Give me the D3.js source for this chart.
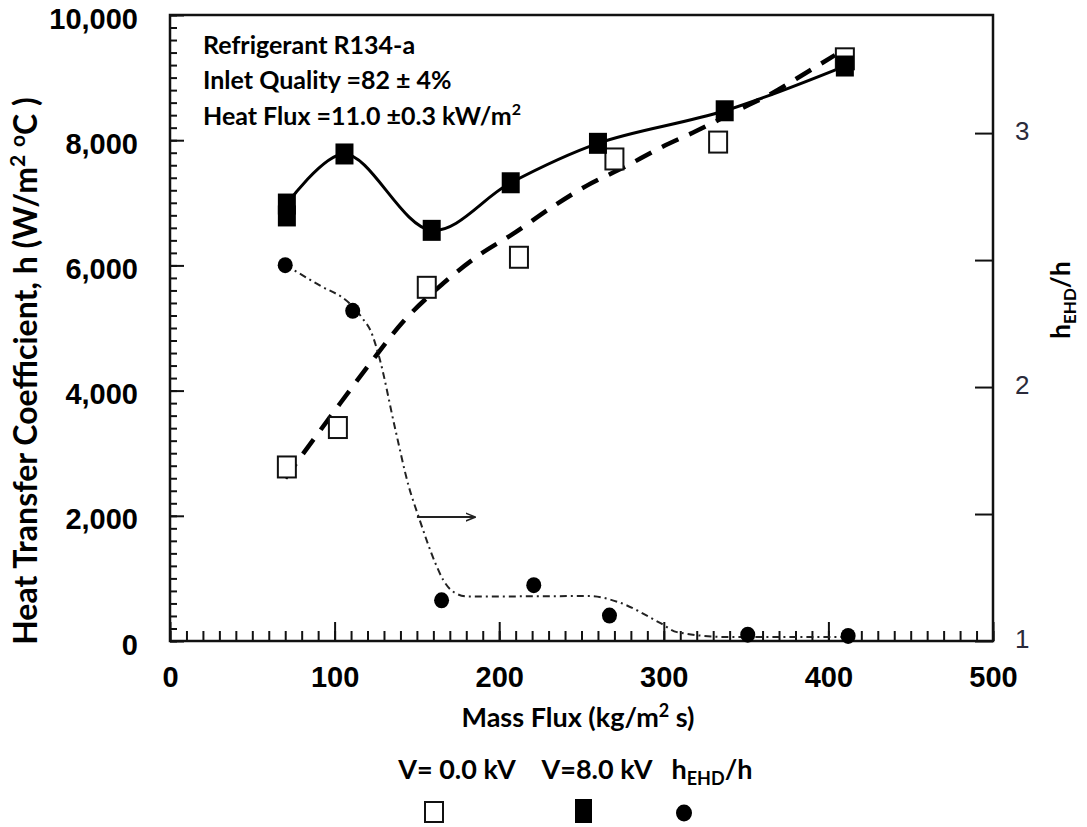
<!DOCTYPE html>
<html>
<head>
<meta charset="utf-8">
<script src="https://cdn.jsdelivr.net/npm/d3@7"></script>
<style>
  body { margin: 0; background: #fff; }
  svg { font-family: Lato, "Open Sans", sans-serif; }
  .axis path.domain { display: none; }
  .axis line { stroke: #111; stroke-width: 2; }
</style>
</head>
<body>
<script>
// mass flux (kg/m2 s) and h (W/m2 C), open squares, V = 0.0 kV
var massV0 = [71, 102, 156, 212, 270, 333, 410];
var hV0 = [2780, 3410, 5650, 6130, 7700, 7970, 9300];

// filled squares, V = 8.0 kV (two readings at the lowest mass flux)
var massV8 = [71, 71, 106, 159, 207, 260, 337, 410];
var hV8 = [6980, 6790, 7780, 6560, 7320, 7950, 8470, 9185];

// h_EHD/h, filled circles, right axis
var massRatio = [70, 111, 165, 221, 267, 351, 412];
var ratio = [2.48, 2.30, 1.16, 1.22, 1.10, 1.025, 1.02];

// dashed trend drawn through the V = 0 points
var trendMass = [70, 99, 120, 142, 165, 187, 210, 232, 253, 276, 298, 320, 345, 365, 386, 404];
var trendH = [2600, 3640, 4380, 5110, 5690, 6150, 6530, 6930, 7270, 7570, 7880, 8150, 8480, 8740, 9070, 9360];

// dash-dot fit of h_EHD/h
var fitMass = [70, 91, 109, 117, 122, 127, 137, 145, 151, 161, 166, 173, 181, 255, 272, 298, 308, 338, 410];
var fitRatio = [2.48, 2.40, 2.33, 2.27, 2.22, 2.12, 1.83, 1.61, 1.49, 1.31, 1.24, 1.19, 1.175, 1.177, 1.154, 1.07, 1.035, 1.016, 1.016];

// arrow pointing to the right axis
var arrowMass = [150, 185];
var arrowH = 1980;

var hTicks = [0, 2000, 4000, 6000, 8000, 10000];
var massTicks = [0, 100, 200, 300, 400, 500];
var ratioTicks = [1, 1.5, 2, 2.5, 3];
var legendLabels = ["V= 0.0 kV", "V=8.0 kV", "hEHD/h"];

var width = 1087, height = 827;
var margin = {top: 15, right: 94, bottom: 186, left: 170};
var plotW = width - margin.left - margin.right;
var plotH = height - margin.top - margin.bottom;

var svg = d3.select("body").append("svg").attr("width", width).attr("height", height);
var g = svg.append("g").attr("transform", "translate(" + margin.left + "," + margin.top + ")");

var x = d3.scaleLinear().domain([0, 500]).range([0, plotW]);
var y = d3.scaleLinear().domain([0, 10000]).range([plotH, 0]);
var y2 = d3.scaleLinear().domain([1, 3.465]).range([plotH, 0]);

// minor ticks first
g.append("g").attr("class", "axis")
  .call(d3.axisLeft(y).tickValues(d3.range(0, 10001, 200)).tickSize(-7).tickFormat(""));
g.append("g").attr("class", "axis")
  .attr("transform", "translate(0," + plotH + ")")
  .call(d3.axisBottom(x).tickValues(d3.range(0, 501, 10)).tickSize(-10).tickFormat(""));

var yAxis = g.append("g").attr("class", "axis")
  .call(d3.axisLeft(y).tickValues(hTicks).tickSize(-14).tickPadding(32).tickFormat(d3.format(",")));
yAxis.selectAll("text").attr("font-size", 29).attr("font-weight", 700).attr("fill", "#000").attr("dy", "0.45em");

var xAxis = g.append("g").attr("class", "axis")
  .attr("transform", "translate(0," + plotH + ")")
  .call(d3.axisBottom(x).tickValues(massTicks).tickSize(-19).tickPadding(25));
xAxis.selectAll("text").attr("font-size", 29).attr("font-weight", 700).attr("fill", "#000");

var y2Axis = g.append("g").attr("class", "axis")
  .attr("transform", "translate(" + plotW + ",0)")
  .call(d3.axisRight(y2).tickValues(ratioTicks).tickSize(-18).tickPadding(22)
    .tickFormat(function(d) { return Number.isInteger(d) ? d : ""; }));
y2Axis.selectAll("text").attr("font-size", 26).attr("font-family", "'Liberation Sans', Arial, sans-serif")
  .attr("fill", "#2a2a3a").attr("dy", "0.25em");

// frame
g.append("rect").attr("width", plotW).attr("height", plotH)
  .attr("fill", "none").attr("stroke", "#111").attr("stroke-width", 2.5);

// lines
var v8Line = d3.line().curve(d3.curveCatmullRom.alpha(0.5))
  .x(function(d) { return x(d[0]); }).y(function(d) { return y(d[1]); });
var v8pts = massV8.map(function(m, i) { return [m, hV8[i]]; })
  .filter(function(d, i) { return i != 1; });
g.append("path").attr("d", v8Line(v8pts))
  .attr("fill", "none").attr("stroke", "#000").attr("stroke-width", 3);

var trendLine = d3.line().curve(d3.curveMonotoneX)
  .x(function(d, i) { return x(d); }).y(function(d, i) { return y(trendH[i]); });
g.append("path").attr("d", trendLine(trendMass))
  .attr("fill", "none").attr("stroke", "#000").attr("stroke-width", 4.5)
  .attr("stroke-dasharray", "18,12");

var fitLine = d3.line().curve(d3.curveMonotoneX)
  .x(function(d, i) { return x(d); }).y(function(d, i) { return y2(fitRatio[i]); });
g.append("path").attr("d", fitLine(fitMass))
  .attr("fill", "none").attr("stroke", "#222").attr("stroke-width", 2)
  .attr("stroke-dasharray", "7,4,2,4");

// arrow
svg.append("defs").append("marker").attr("id", "head")
  .attr("viewBox", "0 0 10 10").attr("refX", 9).attr("refY", 5)
  .attr("markerWidth", 5).attr("markerHeight", 5).attr("orient", "auto")
  .append("path").attr("d", "M0,1L10,5L0,9").attr("fill", "none").attr("stroke", "#222").attr("stroke-width", 1.5);
g.append("line")
  .attr("x1", x(arrowMass[0])).attr("x2", x(arrowMass[1]))
  .attr("y1", y(arrowH)).attr("y2", y(arrowH))
  .attr("stroke", "#222").attr("stroke-width", 2).attr("marker-end", "url(#head)");

// markers
var sqW = 18, sqH = 21;
g.selectAll(".v0").data(massV0).enter().append("rect").attr("class", "v0")
  .attr("x", function(d) { return x(d) - sqW / 2; })
  .attr("y", function(d, i) { return y(hV0[i]) - sqH / 2; })
  .attr("width", sqW).attr("height", sqH)
  .attr("fill", "#fff").attr("stroke", "#111").attr("stroke-width", 2);

g.selectAll(".v8").data(massV8).enter().append("rect").attr("class", "v8")
  .attr("x", function(d) { return x(d) - sqW / 2; })
  .attr("y", function(d, i) { return y(hV8[i]) - sqH / 2; })
  .attr("width", sqW).attr("height", sqH).attr("fill", "#000");

g.selectAll(".ratio").data(massRatio).enter().append("ellipse").attr("class", "ratio")
  .attr("cx", function(d) { return x(d); })
  .attr("cy", function(d, i) { return y2(ratio[i]); })
  .attr("rx", 7.5).attr("ry", 8).attr("fill", "#000");

// notes in the top left
var notes = svg.append("text").attr("font-size", 25).attr("font-weight", 700);
notes.append("tspan").attr("x", 203).attr("y", 54).text("Refrigerant R134-a");
notes.append("tspan").attr("x", 203).attr("y", 89).text("Inlet Quality =82 \u00b1 4%");
notes.append("tspan").attr("x", 203).attr("y", 125).text("Heat Flux =11.0 \u00b10.3 kW/m");
notes.append("tspan").attr("dy", -10).attr("font-size", 16).text("2");

// axis titles
var yt = svg.append("text").attr("font-size", 32).attr("font-weight", 700)
  .attr("text-anchor", "middle").attr("transform", "translate(37,371) rotate(-90)");
yt.append("tspan").text("Heat Transfer Coefficient, h (W/m");
yt.append("tspan").attr("dy", -12).attr("font-size", 21).text("2");
yt.append("tspan").text(" ");
yt.append("tspan").attr("font-size", 21).text("o");
yt.append("tspan").attr("dy", 12).text("C )");

var xt = svg.append("text").attr("font-size", 27).attr("font-weight", 700)
  .attr("text-anchor", "middle").attr("x", 578).attr("y", 727);
xt.append("tspan").text("Mass Flux (kg/m");
xt.append("tspan").attr("dy", -10).attr("font-size", 18).text("2");
xt.append("tspan").attr("dy", 10).text(" s)");

var rt = svg.append("text").attr("font-size", 26).attr("font-weight", 700)
  .attr("text-anchor", "middle").attr("transform", "translate(1070,300) rotate(-90)");
rt.append("tspan").text("h");
rt.append("tspan").attr("dy", 6).attr("font-size", 17).text("EHD");
rt.append("tspan").attr("dy", -6).text("/h");

// legend under the chart
var legX = [457, 597, 712];
var leg = svg.append("g").attr("font-size", 27).attr("font-weight", 700);
leg.append("text").attr("x", legX[0]).attr("y", 779).attr("text-anchor", "middle").text(legendLabels[0]);
leg.append("text").attr("x", legX[1]).attr("y", 779).attr("text-anchor", "middle").text(legendLabels[1]);
var l3 = leg.append("text").attr("x", legX[2]).attr("y", 779).attr("text-anchor", "middle");
l3.append("tspan").text(legendLabels[2].slice(0, 1));
l3.append("tspan").attr("dy", 6).attr("font-size", 18).text(legendLabels[2].slice(1, 4));
l3.append("tspan").attr("dy", -6).text(legendLabels[2].slice(4));

leg.append("rect").attr("x", 425).attr("y", 802).attr("width", 18).attr("height", 20)
  .attr("fill", "#fff").attr("stroke", "#111").attr("stroke-width", 2);
leg.append("rect").attr("x", 575).attr("y", 799).attr("width", 17).attr("height", 24).attr("fill", "#000");
leg.append("ellipse").attr("cx", 684).attr("cy", 813).attr("rx", 8).attr("ry", 8.5).attr("fill", "#000");
</script>
</body>
</html>
